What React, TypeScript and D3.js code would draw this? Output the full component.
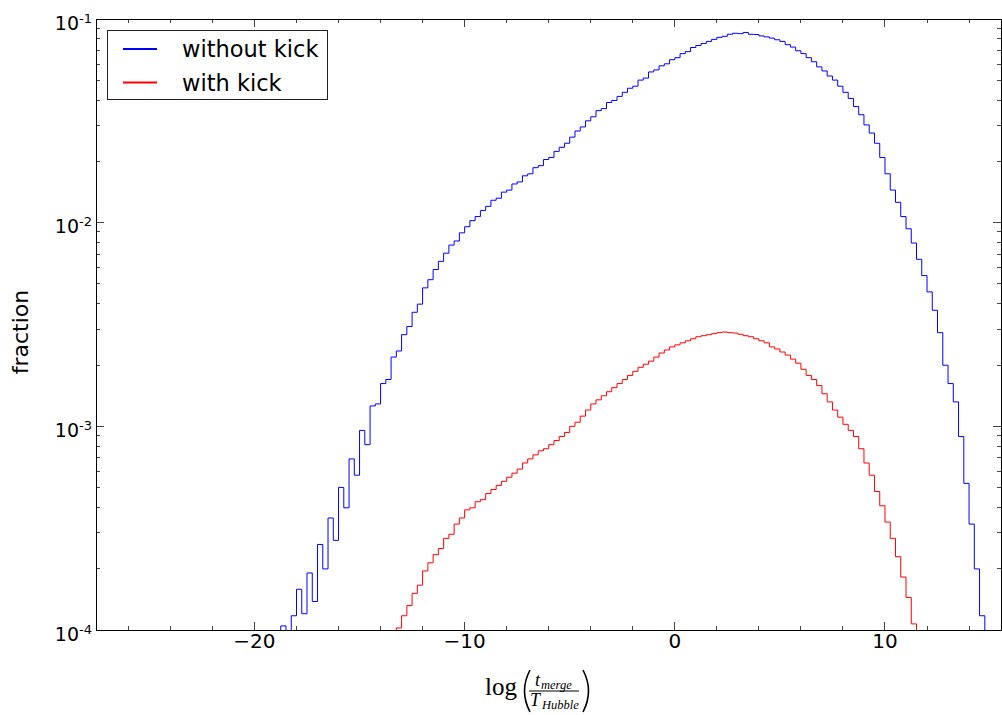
import React from "react";
import * as d3 from "d3";

// Histogram bins (width 0.25 in log(t_merge/T_Hubble)), values are log10(fraction); null = empty bin
const binWidth = 0.25;
const blueStart = -18.75;
const blueLog10: (number | null)[] = [
  -3.98, null, -3.93, -3.8, -3.92, -3.72, -3.86, -3.58, -3.7, -3.45, -3.56, -3.3, -3.4, -3.16, -3.24, -3.02,
  -3.09, -2.9, -2.89, -2.79, -2.77, -2.66, -2.63, -2.55, -2.51, -2.44, -2.4, -2.32, -2.28, -2.23, -2.19, -2.15,
  -2.11, -2.09, -2.05, -2.02, -1.99, -1.97, -1.94, -1.92, -1.89, -1.88, -1.85, -1.84, -1.81, -1.8, -1.77, -1.76,
  -1.73, -1.72, -1.69, -1.68, -1.65, -1.63, -1.61, -1.58, -1.55, -1.53, -1.5, -1.48, -1.45, -1.44, -1.41, -1.4,
  -1.38, -1.36, -1.34, -1.33, -1.3, -1.29, -1.26, -1.25, -1.23, -1.22, -1.2, -1.19, -1.17, -1.16, -1.14, -1.13,
  -1.12, -1.11, -1.1, -1.09, -1.085, -1.075, -1.07, -1.072, -1.066, -1.075, -1.076, -1.083, -1.088, -1.094, -1.102, -1.11,
  -1.126, -1.138, -1.156, -1.17, -1.19, -1.21, -1.235, -1.255, -1.28, -1.3, -1.33, -1.36, -1.39, -1.43, -1.47, -1.52,
  -1.56, -1.61, -1.68, -1.76, -1.84, -1.9, -1.97, -2.03, -2.1, -2.18, -2.26, -2.34, -2.43, -2.54, -2.7, -2.79,
  -2.88, -3.05, -3.28, -3.48, -3.7, -3.93,
];
const redStart = -13.25;
const redLog10: (number | null)[] = [
  -3.99, -3.93, -3.88, -3.82, -3.78, -3.71, -3.67, -3.63, -3.6, -3.55, -3.53, -3.48, -3.45, -3.41, -3.4, -3.37,
  -3.36, -3.33, -3.31, -3.29, -3.27, -3.25, -3.23, -3.21, -3.18, -3.16, -3.14, -3.12, -3.11, -3.09, -3.07, -3.05,
  -3.03, -3.0, -2.98, -2.95, -2.92, -2.89, -2.87, -2.85, -2.83, -2.81, -2.79, -2.77, -2.75, -2.73, -2.71, -2.695,
  -2.68, -2.66, -2.64, -2.625, -2.61, -2.6, -2.59, -2.58, -2.57, -2.56, -2.555, -2.55, -2.545, -2.54, -2.537, -2.54,
  -2.542, -2.548, -2.555, -2.56, -2.57, -2.58, -2.59, -2.61, -2.62, -2.635, -2.65, -2.67, -2.69, -2.72, -2.75, -2.77,
  -2.8, -2.84, -2.88, -2.92, -2.955, -2.99, -3.02, -3.05, -3.11, -3.18, -3.24, -3.32, -3.39, -3.47, -3.55, -3.64,
  -3.74, -3.84, -3.97,
];

const xMajorTicks = [-20, -10, 0, 10];
const xMinorTicks = [-26, -24, -22, -18, -16, -14, -12, -8, -6, -4, -2, 2, 4, 6, 8, 12, 14];
const yDecades = [-4, -3, -2, -1];
const legendLabels = ["without kick", "with kick"];
const seriesColors = ["#0000ff", "#ff0000"];

const W = 1002;
const H = 715;
const L = 96;
const R = 1001;
const T = 19;
const B = 630;

const x = d3.scaleLinear().domain([-27.54, 15.52]).range([L, R]);
const y = d3.scaleLog().domain([1e-4, 1e-1]).range([B, T]);

function stepPoints(start: number, logs: (number | null)[]): [number, number][] {
  const floor = 1e-7;
  const pts: [number, number][] = [[start, floor]];
  logs.forEach((lv, i) => {
    const v = lv === null ? floor : Math.pow(10, lv);
    pts.push([start + i * binWidth, v]);
    pts.push([start + (i + 1) * binWidth, v]);
  });
  pts.push([start + logs.length * binWidth, floor]);
  return pts;
}

const line = d3
  .line<[number, number]>()
  .x((d) => x(d[0]))
  .y((d) => Math.min(B + 5, y(d[1])));

const fmtMinus = (v: number) => (v < 0 ? "\u2212" + Math.abs(v) : String(v));

export default function App() {
  const yMinor: number[] = [];
  yDecades.slice(0, 3).forEach((d) => {
    for (let k = 2; k <= 9; k++) yMinor.push(k * Math.pow(10, d));
  });
  const tickColor = "#444";
  return (
    <svg
      width={W}
      height={H}
      style={{ position: "absolute", left: 0, top: 0, background: "#fff" }}
      fontFamily="'DejaVu Sans', sans-serif"
    >
      <defs>
        <clipPath id="plot">
          <rect x={L} y={T} width={R - L} height={B - T} />
        </clipPath>
      </defs>
      <rect x={0} y={0} width={W} height={H} fill="#fff" />
      <g clipPath="url(#plot)">
        <path d={line(stepPoints(blueStart, blueLog10)) || ""} fill="none" stroke={seriesColors[0]} strokeWidth={1} />
        <path d={line(stepPoints(redStart, redLog10)) || ""} fill="none" stroke={seriesColors[1]} strokeWidth={1} />
      </g>
      {/* ticks */}
      <g stroke={tickColor} strokeWidth={1} shapeRendering="crispEdges">
        {xMajorTicks.map((t) => (
          <g key={"xM" + t}>
            <line x1={x(t)} x2={x(t)} y1={B} y2={B - 8} />
            <line x1={x(t)} x2={x(t)} y1={T} y2={T + 8} />
          </g>
        ))}
        {xMinorTicks.map((t) => (
          <g key={"xm" + t}>
            <line x1={x(t)} x2={x(t)} y1={B} y2={B - 4} />
            <line x1={x(t)} x2={x(t)} y1={T} y2={T + 4} />
          </g>
        ))}
        {yDecades.map((d) => (
          <g key={"yM" + d}>
            <line x1={L} x2={L + 8} y1={y(Math.pow(10, d))} y2={y(Math.pow(10, d))} />
            <line x1={R} x2={R - 8} y1={y(Math.pow(10, d))} y2={y(Math.pow(10, d))} />
          </g>
        ))}
        {yMinor.map((v, i) => (
          <g key={"ym" + i}>
            <line x1={L} x2={L + 4} y1={y(v)} y2={y(v)} />
            <line x1={R} x2={R - 4} y1={y(v)} y2={y(v)} />
          </g>
        ))}
      </g>
      <rect x={L} y={T} width={R - L} height={B - T} fill="none" stroke="#000" strokeWidth={1} shapeRendering="crispEdges" />
      {/* x tick labels */}
      {xMajorTicks.map((t) => (
        <text key={"xl" + t} x={x(t)} y={B + 18} fontSize={20} textAnchor="middle" fill="#000">
          {fmtMinus(t)}
        </text>
      ))}
      {/* y tick labels */}
      {yDecades.map((d) => (
        <text key={"yl" + d} x={92} y={y(Math.pow(10, d)) + 10.5} fontSize={19} textAnchor="end" fill="#000">
          10
          <tspan fontSize={13} dy={-7}>
            {"-" + Math.abs(d)}
          </tspan>
        </text>
      ))}
      {/* y label */}
      <text transform="translate(28,332) rotate(-90)" fontSize={22} textAnchor="middle" fill="#000">
        fraction
      </text>
      {/* x label (math) */}
      <g fill="#000" fontFamily="'Liberation Serif', 'DejaVu Serif', serif">
        <text x={485} y={695} fontSize={25}>log</text>
        <path d="M530,670 Q519,691 530,712" fill="none" stroke="#000" strokeWidth={1.6} />
        <path d="M583,670 Q594,691 583,712" fill="none" stroke="#000" strokeWidth={1.6} />
        <line x1={529} x2={579} y1={691} y2={691} stroke="#000" strokeWidth={1} />
        <text x={535} y={686} fontSize={18} fontStyle="italic">t</text>
        <text x={541} y={689} fontSize={12.5} fontStyle="italic">merge</text>
        <text x={530} y={706} fontSize={18} fontStyle="italic">T</text>
        <text x={542} y={709} fontSize={12.5} fontStyle="italic">Hubble</text>
      </g>
      {/* legend */}
      <rect x={107} y={30} width={220} height={69} fill="#fff" stroke="#222" strokeWidth={1} shapeRendering="crispEdges" />
      {legendLabels.map((lab, i) => (
        <g key={lab}>
          <line x1={123} x2={157} y1={49 + i * 33.5} y2={49 + i * 33.5} stroke={seriesColors[i]} strokeWidth={2} />
          <text x={182} y={57 + i * 33.5} fontSize={22.5} fill="#000">
            {lab}
          </text>
        </g>
      ))}
    </svg>
  );
}
